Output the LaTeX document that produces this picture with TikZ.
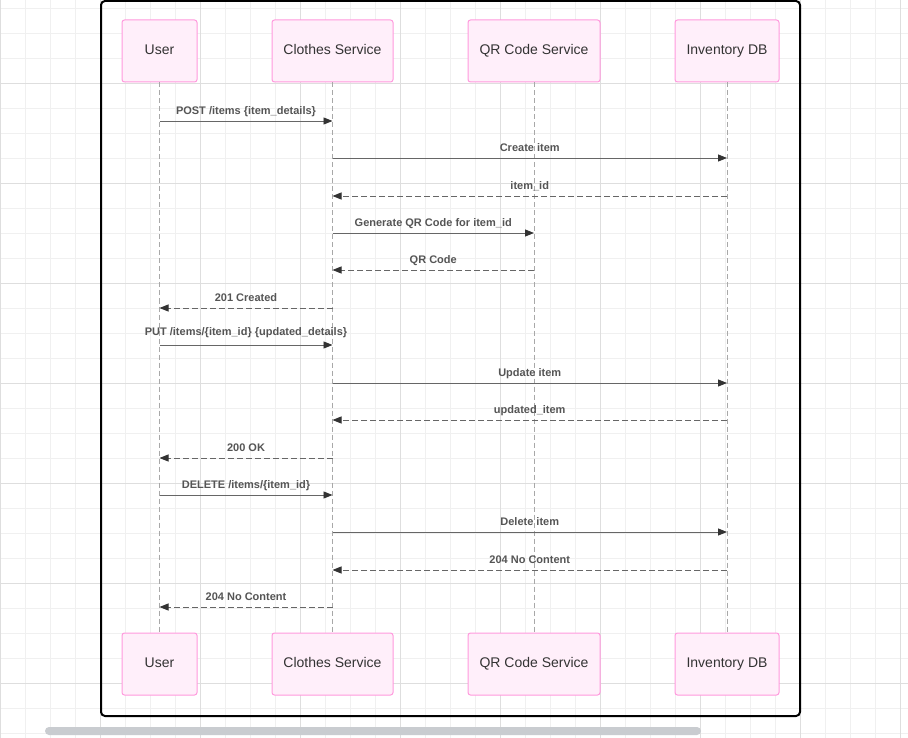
\documentclass[tikz,border=0pt]{standalone}
\usepackage{fontspec}
\setmainfont{Liberation Sans}
\usetikzlibrary{arrows.meta}
\definecolor{gridminor}{HTML}{F0F0F0}
\definecolor{gridmajor}{HTML}{DEDEDE}
\definecolor{actfill}{HTML}{FFEFFA}
\definecolor{actdraw}{HTML}{FF99DD}
\definecolor{acttext}{HTML}{333333}
\definecolor{msgline}{HTML}{666666}
\definecolor{msgtext}{HTML}{555555}
\definecolor{lifeline}{HTML}{A8A8A8}
\definecolor{tipcol}{HTML}{333333}
\definecolor{scrollcol}{HTML}{C9CCD0}
\tikzset{
  actor/.style={draw=actdraw, fill=actfill, line width=1pt, rounded corners=2.5pt,
    minimum height=62pt, inner sep=0pt, text height=10pt, text depth=3pt,
    font=\fontsize{14}{16}\selectfont, text=acttext},
  life/.style={draw=lifeline, line width=1pt, dash pattern=on 5pt off 3pt},
  call/.style={draw=msgline, line width=0.9pt, -{Triangle[length=9pt,width=7pt,color=tipcol]}},
  reply/.style={call, dash pattern=on 6pt off 3pt},
  lbl/.style={midway, anchor=base, yshift=6.5pt, font=\bfseries\fontsize{11}{12}\selectfont, text=msgtext, inner sep=0pt}
}
\begin{document}
\begin{tikzpicture}[x=1pt,y=-1pt]
\useasboundingbox (0,0) rectangle (908,738);
\fill[white] (0,0) rectangle (908,738);
% grid
\foreach \x in {0,25,...,900} \draw[gridminor, line width=0.8pt] (\x,0) -- (\x,738);
\foreach \y in {8.3,33.3,...,738} \draw[gridminor, line width=0.8pt] (0,\y) -- (908,\y);
\foreach \x in {0,100,...,900} \draw[gridmajor, line width=0.8pt] (\x,0) -- (\x,738);
\foreach \y in {83.3,183.3,...,738} \draw[gridmajor, line width=0.8pt] (0,\y) -- (908,\y);
% frame
\draw[black, line width=2pt, rounded corners=4pt] (101,1) rectangle (800,716);
% scrollbar
\fill[scrollcol, rounded corners=4pt] (45,727) rectangle (701,735);
% actors top
\node[actor, minimum width=75pt] (u1) at (159.5,51) {User};
\node[actor, minimum width=121pt] (c1) at (332.5,51) {Clothes Service};
\node[actor, minimum width=132pt] (q1) at (534,51) {QR Code Service};
\node[actor, minimum width=104pt] (d1) at (727,51) {Inventory DB};
% actors bottom
\node[actor, minimum width=75pt] (u2) at (159.5,664) {User};
\node[actor, minimum width=121pt] (c2) at (332.5,664) {Clothes Service};
\node[actor, minimum width=132pt] (q2) at (534,664) {QR Code Service};
\node[actor, minimum width=104pt] (d2) at (727,664) {Inventory DB};
% lifelines
\draw[life] (u1) -- (u2);
\draw[life] (c1) -- (c2);
\draw[life] (q1) -- (q2);
\draw[life] (d1) -- (d2);
% messages
\draw[call] (u1 |- 0,121) -- (c1 |- 0,121) node[lbl] {POST /items \{item\_details\}};
\draw[call] (c1 |- 0,158) -- (d1 |- 0,158) node[lbl] {Create item};
\draw[reply] (d1 |- 0,196) -- (c1 |- 0,196) node[lbl] {item\_id};
\draw[call] (c1 |- 0,233) -- (q1 |- 0,233) node[lbl] {Generate QR Code for item\_id};
\draw[reply] (q1 |- 0,270) -- (c1 |- 0,270) node[lbl] {QR Code};
\draw[reply] (c1 |- 0,308) -- (u1 |- 0,308) node[lbl] {201 Created};
\draw[call] (u1 |- 0,345) -- (c1 |- 0,345) node[lbl, yshift=3pt] {PUT /items/\{item\_id\} \{updated\_details\}};
\draw[call] (c1 |- 0,383) -- (d1 |- 0,383) node[lbl] {Update item};
\draw[reply] (d1 |- 0,420) -- (c1 |- 0,420) node[lbl] {updated\_item};
\draw[reply] (c1 |- 0,458) -- (u1 |- 0,458) node[lbl] {200 OK};
\draw[call] (u1 |- 0,495) -- (c1 |- 0,495) node[lbl] {DELETE /items/\{item\_id\}};
\draw[call] (c1 |- 0,532) -- (d1 |- 0,532) node[lbl] {Delete item};
\draw[reply] (d1 |- 0,570) -- (c1 |- 0,570) node[lbl] {204 No Content};
\draw[reply] (c1 |- 0,607) -- (u1 |- 0,607) node[lbl] {204 No Content};
\end{tikzpicture}
\end{document}
